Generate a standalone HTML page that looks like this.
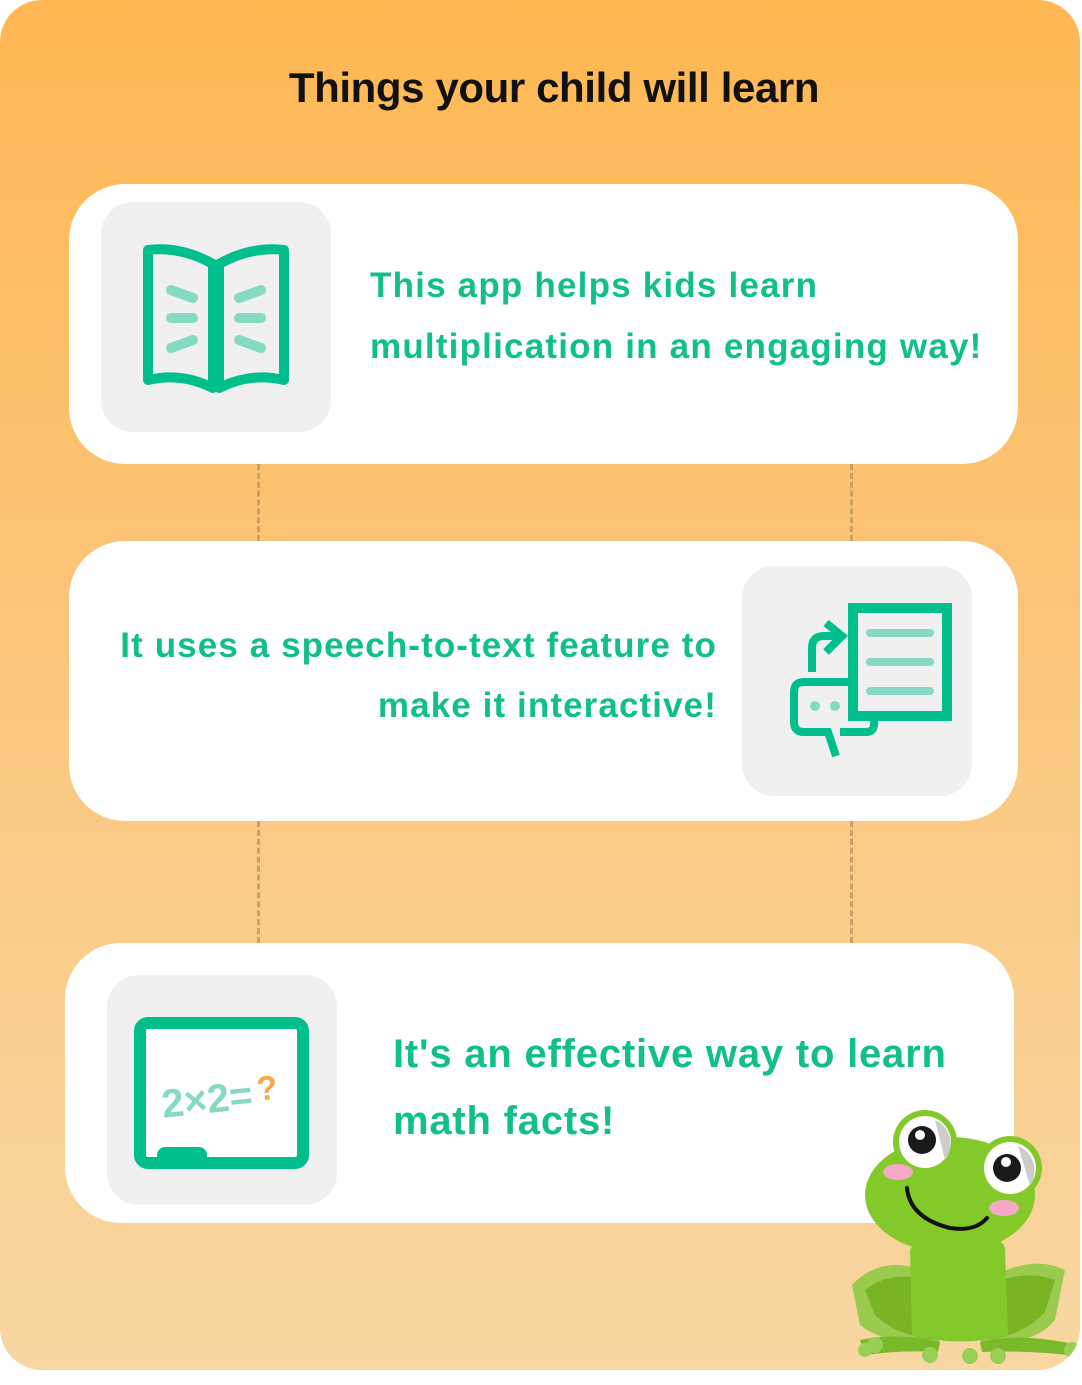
<!DOCTYPE html>
<html><head><meta charset="utf-8">
<style>
html,body{margin:0;padding:0;background:#fff;}
body{width:1082px;height:1385px;position:relative;overflow:hidden;font-family:"Liberation Sans",sans-serif;}
#panel{position:absolute;left:0;top:0;width:1080px;height:1370px;border-radius:42px;background:linear-gradient(180deg,#FFB752 0%,#FBC57A 45%,#F8D7A2 100%);overflow:hidden;}
h1{position:absolute;top:64px;left:0;width:1080px;padding-left:28px;box-sizing:border-box;text-align:center;margin:0;font-size:42px;font-weight:bold;letter-spacing:-0.4px;color:#111;}
.card{position:absolute;background:#fff;border-radius:56px;width:949px;height:280px;}
.icon{position:absolute;width:230px;height:230px;background:#f0f0f0;border-radius:32px;}
.txt{position:absolute;color:#10BF8A;font-weight:bold;white-space:nowrap;}
.dash{position:absolute;width:0;border-left:3px dashed #C9A06A;}
</style></head><body>
<div id="panel">
<h1>Things your child will learn</h1>

<div class="dash" style="left:257px;top:464px;height:77px"></div>
<div class="dash" style="left:850px;top:464px;height:77px"></div>
<div class="dash" style="left:257px;top:821px;height:122px"></div>
<div class="dash" style="left:850px;top:821px;height:122px"></div>

<div class="card" style="left:69px;top:184px">
  <div class="icon" style="left:32px;top:18px">
    <svg width="230" height="230" viewBox="0 0 230 230">
      <path d="M47 48 Q80 44 112 62 L112 186 Q80 170 47 178 Z" fill="none" stroke="#00BF8C" stroke-width="10" stroke-linejoin="round"/>
      <path d="M183 48 Q150 44 118 62 L118 186 Q150 170 183 178 Z" fill="none" stroke="#00BF8C" stroke-width="10" stroke-linejoin="round"/>
      <g stroke="#86DAC4" stroke-width="10" stroke-linecap="round">
        <line x1="70" y1="88" x2="92" y2="96"/><line x1="70" y1="116" x2="92" y2="116"/><line x1="70" y1="146" x2="92" y2="138"/>
        <line x1="160" y1="88" x2="138" y2="96"/><line x1="160" y1="116" x2="138" y2="116"/><line x1="160" y1="146" x2="138" y2="138"/>
      </g>
    </svg>
  </div>
  <div class="txt" style="left:301px;top:71px;font-size:35px;letter-spacing:1.2px;line-height:61px;">This app helps kids learn<br>multiplication in an engaging way!</div>
</div>

<div class="card" style="left:69px;top:541px">
  <div class="txt" style="right:301px;top:75px;font-size:35px;letter-spacing:1.1px;line-height:60px;text-align:right;">It uses a speech-to-text feature to<br>make it interactive!</div>
  <div class="icon" style="left:673px;top:25px">
    <svg width="230" height="230" viewBox="0 0 230 230">
      <path d="M70 106 L70 82 Q70 70 82 70 L100 70" fill="none" stroke="#00BF8C" stroke-width="8"/>
      <path d="M84 57 L100 70 L84 86" fill="none" stroke="#00BF8C" stroke-width="8"/>
      <path d="M108 116 L62 116 Q52 116 52 126 L52 156 Q52 166 62 166 L86 166 L94 190" fill="none" stroke="#00BF8C" stroke-width="8"/>
      <path d="M98 166 L124 166 Q132 166 132 158 L132 152" fill="none" stroke="#00BF8C" stroke-width="8"/>
      <circle cx="73" cy="140" r="5" fill="#86DAC4"/><circle cx="93" cy="140" r="5" fill="#86DAC4"/>
      <rect x="111" y="42" width="94" height="108" fill="#f0f0f0" stroke="#00BF8C" stroke-width="10"/>
      <g stroke="#86DAC4" stroke-width="8" stroke-linecap="round"><line x1="128" y1="67" x2="188" y2="67"/><line x1="128" y1="96" x2="188" y2="96"/><line x1="128" y1="125" x2="188" y2="125"/></g>
    </svg>
  </div>
</div>

<div class="card" style="left:65px;top:943px">
  <div class="icon" style="left:42px;top:32px">
    <svg width="230" height="230" viewBox="0 0 230 230">
      <rect x="33" y="48" width="163" height="140" rx="8" fill="#fff" stroke="#00BF8C" stroke-width="12"/>
      <rect x="50" y="172" width="50" height="16" rx="8" fill="#00BF8C"/>
      <text x="54" y="137" font-family="Liberation Sans" font-weight="bold" font-size="40" fill="#86DAC4" transform="rotate(-6 110 120)">2×2=</text>
      <text x="150" y="130" font-family="Liberation Sans" font-weight="bold" font-size="34" fill="#F5A94A" transform="rotate(-6 110 120)">?</text>
    </svg>
  </div>
  <div class="txt" style="left:328px;top:78px;font-size:40px;letter-spacing:0.8px;line-height:67px;">It's an effective way to learn<br>math facts!</div>
</div>

<svg style="position:absolute;left:840px;top:1100px" width="242" height="285" viewBox="0 0 242 285">
  <path d="M12 185 Q40 155 85 170 Q95 210 100 245 Q45 245 20 225 Z" fill="#9ACB4E"/>
  <path d="M225 170 Q195 155 155 175 Q145 210 140 245 Q195 245 215 220 Z" fill="#9ACB4E"/>
  <path d="M25 190 Q50 170 85 180 L95 240 Q55 235 35 215 Z" fill="#78B424"/>
  <path d="M215 180 Q190 170 155 182 L145 240 Q185 235 205 212 Z" fill="#78B424"/>
  <path d="M70 150 Q80 130 125 132 Q165 135 165 150 L168 235 Q120 248 72 235 Z" fill="#84C92A"/>
  <path d="M20 240 Q60 232 100 242 L98 252 Q60 250 25 255 Z" fill="#7AB929"/>
  <path d="M140 242 Q180 232 238 245 L236 256 Q190 250 142 252 Z" fill="#7AB929"/>
  <g fill="#9ACF55"><circle cx="35" cy="245" r="8"/><circle cx="90" cy="255" r="8"/><circle cx="130" cy="256" r="8"/><circle cx="158" cy="256" r="8"/><circle cx="232" cy="250" r="8"/><circle cx="25" cy="250" r="7"/></g>
  <ellipse cx="110" cy="95" rx="85" ry="58" fill="#84C92A"/>
  <circle cx="85" cy="42" r="32" fill="#84C92A"/><circle cx="85" cy="42" r="26" fill="#fff"/><path d="M95 20 A26 26 0 0 1 105 60 Z" fill="#ccc"/>
  <circle cx="82" cy="40" r="14" fill="#1a1a1a"/><circle cx="80" cy="35" r="5" fill="#fff"/>
  <circle cx="170" cy="68" r="32" fill="#84C92A"/><circle cx="170" cy="68" r="26" fill="#fff"/><path d="M178 46 A26 26 0 0 1 190 85 Z" fill="#ccc"/>
  <circle cx="167" cy="68" r="14" fill="#1a1a1a"/><circle cx="166" cy="62" r="5" fill="#fff"/>
  <ellipse cx="58" cy="72" rx="15" ry="8" fill="#F7A8C8"/><ellipse cx="164" cy="108" rx="15" ry="8" fill="#F7A8C8"/>
  <path d="M67 88 Q70 118 110 128 Q135 132 147 118" fill="none" stroke="#111" stroke-width="4" stroke-linecap="round"/>
</svg>
</div>
</body></html>
